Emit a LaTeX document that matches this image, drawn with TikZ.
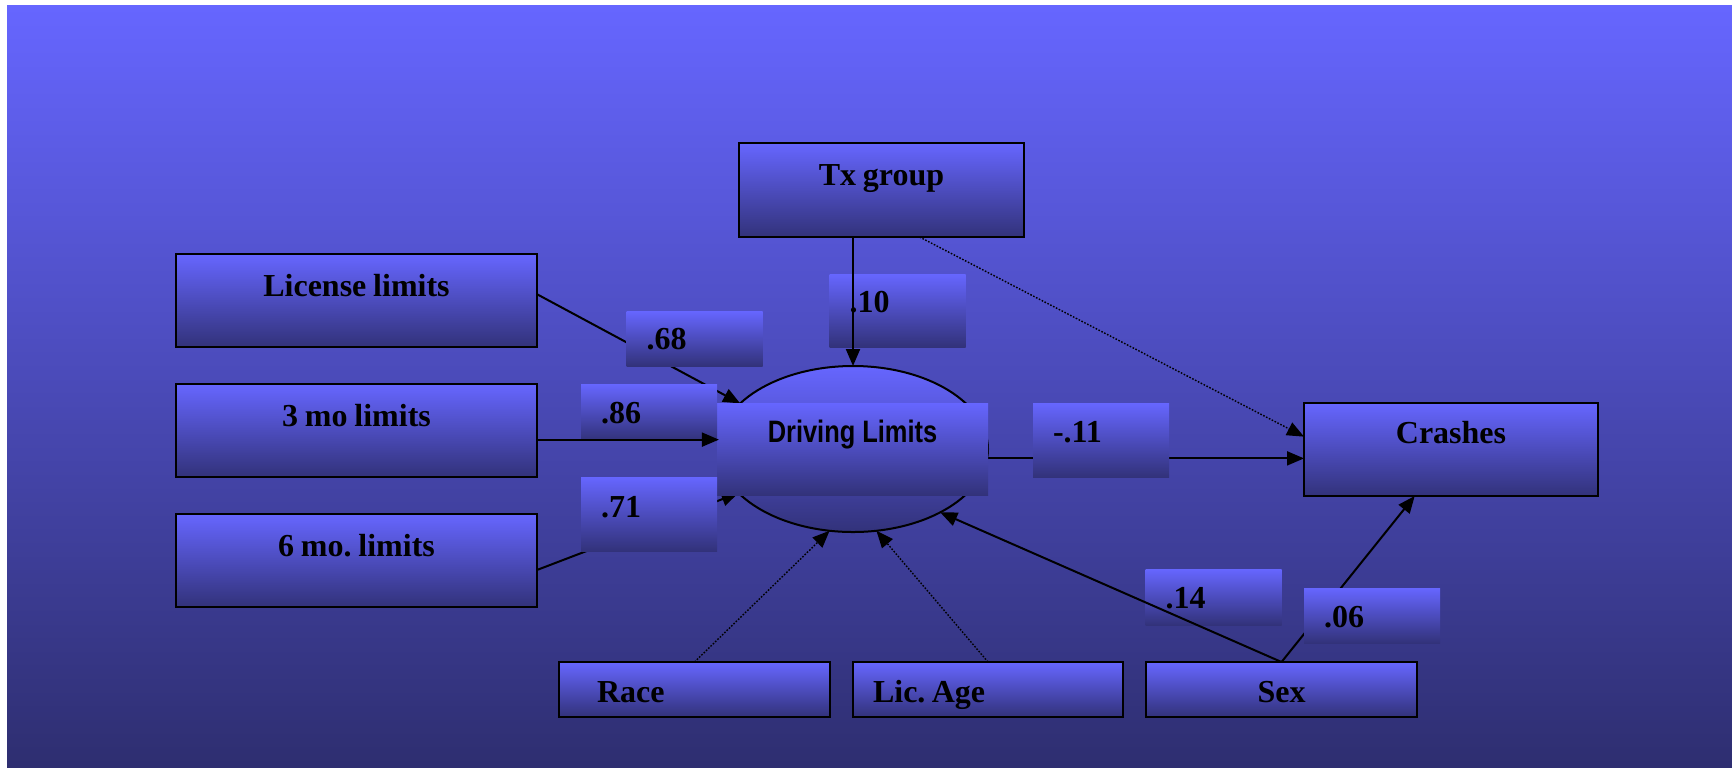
\documentclass[tikz,border=0pt]{standalone}
\usepackage{fontspec}
\usepackage{graphicx}
\setmainfont{Liberation Serif}[WordSpace=0.85]
\newfontfamily\arialfont{Liberation Sans}
\usetikzlibrary{arrows.meta,shapes.geometric}
\definecolor{topc}{RGB}{102,102,255}
\definecolor{botc}{RGB}{50,50,122}
\definecolor{bgbot}{RGB}{46,46,112}
\begin{document}
\begin{tikzpicture}[x=0.5pt,y=-0.5pt,
  shade/.style={top color=topc, bottom color=botc},
  box/.style={shade, draw=black, line width=1pt, inner sep=0pt, outer sep=0pt,
    font=\fontsize{16}{19}\selectfont\bfseries},
  sidebox/.style={box, minimum width=180.5pt, minimum height=46.5pt, text height=11pt, text depth=15.5pt},
  lowbox/.style={box, minimum height=27.5pt, text height=12.5pt, text depth=0pt, align=left},
  coef/.style={shade, inner ysep=0pt, inner xsep=10pt, outer sep=0pt, text width=48pt, align=left,
    text height=11pt, text depth=0pt, font=\fontsize{16}{19}\selectfont\bfseries},
  coeftall/.style={coef, text depth=9pt},
  conn/.style={line width=1pt, -{Triangle[length=8.5pt,width=7pt]}},
  dotconn/.style={line width=0.7pt, dash pattern=on 0.8pt off 0.8pt, -{Triangle[length=8.5pt,width=7pt]}}
]
\useasboundingbox (0,0) rectangle (1732,767);
\fill[white] (0,0) rectangle (1732,767);
\fill[top color=topc, bottom color=bgbot] (7,5) rectangle (1732,767);

% boxes
\node[sidebox] (ll) at (356.5,300.5) {License limits};
\node[sidebox] (m3) at (356.5,430.5) {3 mo limits};
\node[sidebox] (m6) at (356.5,560.5) {6 mo.\ limits};
\node[sidebox, minimum width=142.5pt, minimum height=47pt] (tx) at (881.5,190) {Tx group};
\node[box, minimum width=147pt, minimum height=46.5pt, text height=11pt, text depth=17.5pt] (cr) at (1451,449.5) {Crashes};
\node[lowbox, inner xsep=19pt, text width=97.5pt] (race) at (694.5,689.5) {Race};
\node[lowbox, inner xsep=10pt, text width=115pt] (lic) at (988,689.5) {Lic.\hspace{0.2em}Age};
\node[lowbox, align=center, minimum width=135.5pt] (sex) at (1281.5,689.5) {Sex};
\node[ellipse, draw=black, line width=1pt, shade, minimum width=135pt, minimum height=83pt,
  inner sep=0pt, outer sep=0pt] (dl) at (853,449) {};

% connectors hidden behind coefficient boxes
\draw[conn] (ll.2.7) -- (dl.158.5);
\draw[conn] (m6.357.6) -- (dl.201.4);
\draw[conn] (sex.north) -- (cr.232.6);
\draw[conn] (dl.356) -- (dl.356 -| cr.west);

% coefficient boxes
\node[shade, inner sep=0pt, outer sep=0pt, minimum width=135.5pt, minimum height=46pt,
  text height=9pt, text depth=16pt, font=\arialfont\fontsize{15.5}{18}\selectfont\bfseries] (dlt) at (852.5,449) {\scalebox{0.82}[1]{Driving Limits}};
\node[coef, minimum height=27.5pt, text height=10.5pt] (c68) at (694.5,338.5) {.68};
\node[coef, minimum height=28pt] (c86) at (649,412) {.86};
\node[coeftall, minimum height=37pt, text depth=8pt] (c71) at (649,514) {.71};
\node[coeftall, minimum height=36.5pt, text depth=9.5pt] (c10) at (897.5,310.5) {.10};
\node[coeftall, minimum height=37pt] (c11) at (1101,440) {-.11};
\node[coef, minimum height=28pt] (c14) at (1213.5,597) {.14};
\node[coef, minimum height=27.5pt, text height=11.5pt] (c06) at (1372,615.5) {.06};

% connectors drawn on top
\draw[conn] (m3.east |- dl.176) -- (dl.176);
\draw[conn] (dl.north |- tx.south) -- (dl.north);
\draw[conn] (sex.north) -- (dl.324);
\draw[dotconn] (tx.309) -- (cr.175);
\draw[dotconn] (race.north) -- (dl.254);
\draw[dotconn] (lic.north) -- (dl.286);
\end{tikzpicture}
\end{document}
